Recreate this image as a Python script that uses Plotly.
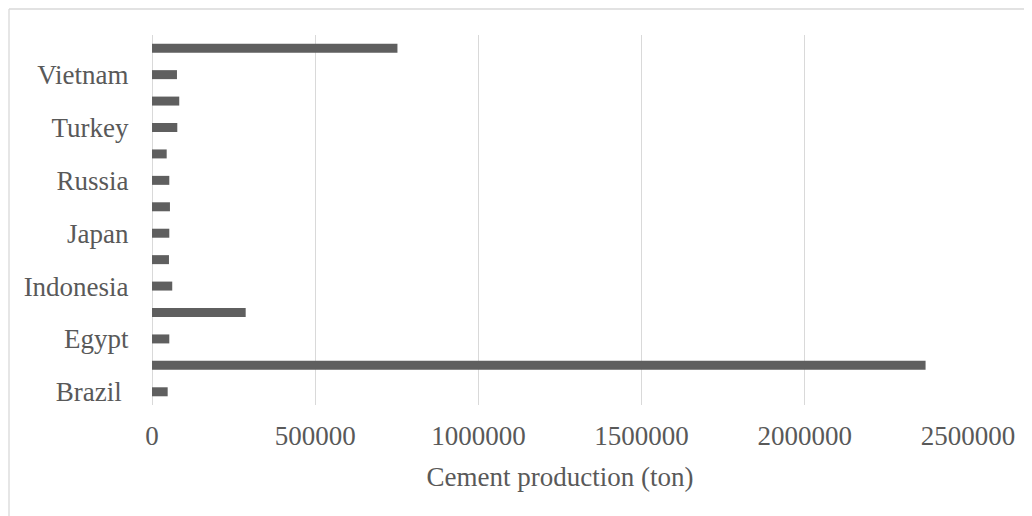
import plotly.graph_objects as go

countries = ["Brazil", "China", "Egypt", "India", "Indonesia", "Iran", "Japan",
             "Korea", "Russia", "Saudi Arabia", "Turkey", "USA", "Vietnam", "Others"]
production = [48000, 2370000, 53000, 287000, 62000, 52000, 53000,
              55000, 53000, 45000, 77500, 83500, 76500, 752000]
shown_labels = ["Brazil", "Egypt", "Indonesia", "Japan", "Russia", "Turkey", "Vietnam"]
shown_text = ["Brazil\u00a0", "Egypt", "Indonesia", "Japan", "Russia", "Turkey", "Vietnam"]
x_ticks = [0, 500000, 1000000, 1500000, 2000000, 2500000]

font_family = "Liberation Serif, Times New Roman, serif"
grey_text = "#595959"
grid = "#d9d9d9"
fs = 27

fig = go.Figure(go.Bar(
    y=countries, x=production, orientation="h",
    marker=dict(color="#5f5f5f", line=dict(width=0)),
))

# page body has an 8px margin, so the figure starts at (8, 8) on screen
L, R, T, B = 144, 64, 27, 111
W, H = 1024, 508
pw, ph = W - L - R, H - T - B

fig.update_layout(
    width=W, height=H,
    margin=dict(l=L, r=R, t=T, b=B, pad=0),
    paper_bgcolor="white", plot_bgcolor="white",
    bargap=0.66,
    showlegend=False,
    font=dict(family=font_family, color=grey_text, size=fs),
    xaxis=dict(
        range=[0, 2500000], tickvals=x_ticks, ticktext=[str(v) for v in x_ticks],
        showgrid=True, gridcolor=grid, gridwidth=1.3,
        zeroline=True, zerolinecolor=grid, zerolinewidth=1.3,
        showline=False,
        ticks="outside", ticklen=7, tickcolor="rgba(0,0,0,0)",
        tickfont=dict(size=fs, color=grey_text, family=font_family),
        title=dict(text="Cement production (ton)", standoff=16,
                   font=dict(size=fs, color=grey_text, family=font_family)),
    ),
    yaxis=dict(
        type="category", categoryorder="array", categoryarray=countries,
        tickvals=shown_labels, ticktext=shown_text,
        showgrid=False, zeroline=False, showline=False,
        ticks="outside", ticklen=17, tickcolor="rgba(0,0,0,0)",
        tickfont=dict(size=fs, color=grey_text, family=font_family),
    ),
    shapes=[
        dict(type="line", xref="paper", yref="paper",
             x0=(1 - L) / pw, x1=1.2, y0=(H - B - 1) / ph, y1=(H - B - 1) / ph,
             line=dict(color=grid, width=1.3)),
        dict(type="line", xref="paper", yref="paper",
             x0=(1 - L) / pw, x1=(1 - L) / pw, y0=(H - B - 1) / ph, y1=-0.5,
             line=dict(color=grid, width=1.3)),
    ],
)

fig.write_html("out.html")
